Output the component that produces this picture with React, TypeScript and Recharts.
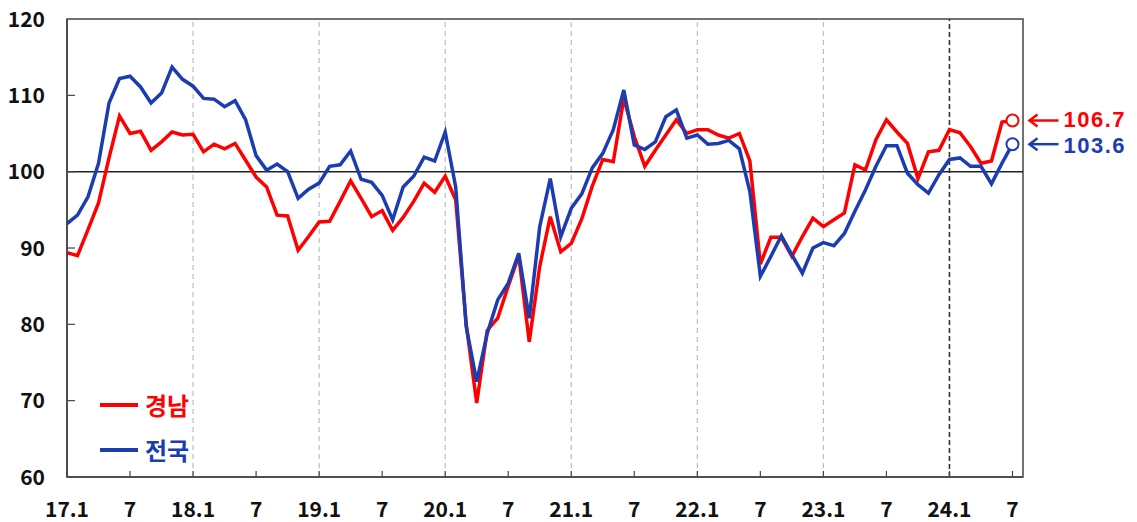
import { LineChart, Line, XAxis, YAxis, ReferenceLine, ReferenceArea, ReferenceDot } from "recharts";

// 2017.1 ~ 2024.7 monthly index (91 months)
const gyeongnam = [
  89.4, 89.0, 92.4, 95.9, 101.8, 107.3, 105.0, 105.3, 102.8, 103.9, 105.2, 104.8,
  104.9, 102.6, 103.6, 103.0, 103.7, 101.5, 99.3, 98.0, 94.3, 94.2, 89.7, 91.5,
  93.4, 93.5, 96.1, 98.8, 96.5, 94.1, 94.9, 92.3, 94.0, 96.1, 98.5, 97.3,
  99.4, 96.3, 80.0, 69.7, 79.2, 80.8, 85.0, 89.0, 77.7, 87.6, 94.1, 89.5,
  90.6, 93.8, 98.1, 101.6, 101.3, 109.6, 104.6, 100.7, 102.8, 104.8, 106.8, 105.0,
  105.5, 105.5, 104.8, 104.4, 105.0, 101.4, 87.9, 91.4, 91.4, 88.9, 91.5, 93.9,
  92.8, 93.7, 94.6, 100.9, 100.2, 104.2, 106.8, 105.2, 103.7, 99.1, 102.6, 102.8,
  105.5, 105.1, 103.3, 101.1, 101.4, 106.5, 106.7,
];

const national = [
  93.2, 94.3, 96.7, 101.1, 109.0, 112.2, 112.5, 111.1, 109.0, 110.3, 113.7, 112.1,
  111.2, 109.6, 109.5, 108.5, 109.3, 106.8, 102.1, 100.2, 101.0, 100.0, 96.5, 97.7,
  98.5, 100.7, 100.9, 102.7, 99.0, 98.6, 96.9, 93.7, 98.0, 99.4, 101.9, 101.4,
  105.2, 98.0, 79.7, 72.5, 78.8, 83.2, 85.4, 89.3, 80.8, 92.8, 99.1, 91.5,
  95.2, 97.1, 100.5, 102.4, 105.5, 110.7, 103.5, 102.9, 103.9, 107.2, 108.1, 104.4,
  104.8, 103.6, 103.7, 104.1, 103.0, 97.4, 86.3, 88.9, 91.6, 89.1, 86.7, 90.0,
  90.7, 90.3, 91.9, 94.8, 97.6, 100.7, 103.4, 103.4, 99.8, 98.3, 97.2, 99.6,
  101.6, 101.8, 100.7, 100.7, 98.4, 101.1, 103.6,
];

const xTickLabels = ["17.1", "7", "18.1", "7", "19.1", "7", "20.1", "7", "21.1", "7", "22.1", "7", "23.1", "7", "24.1", "7"];
const xTicks = xTickLabels.map((_, k) => k * 6);
const yearStarts = [12, 24, 36, 48, 60, 72];
const latestYearStart = 84;
const yTicks = [60, 70, 80, 90, 100, 110, 120];

const RED = "#ff0000";
const BLUE = "#1c3db0";
const FONT = "'Noto Sans CJK KR', 'Noto Sans', sans-serif";

const series = [
  { key: "gyeongnam", name: "경남", color: RED },
  { key: "national", name: "전국", color: BLUE },
];

const data = gyeongnam.map((v, i) => ({ i, gyeongnam: v, national: national[i] }));
const last = data.length - 1;

const XTick = ({ x, y, payload }: any) => (
  <g>
    <line x1={x} x2={x} y1={y} y2={y - 6} stroke="#444" strokeWidth={1.2} />
    <text x={x} y={y + 40} textAnchor="middle" fontFamily={FONT} fontWeight={700} fontSize={21} fill="#111">
      {xTickLabels[payload.value / 6]}
    </text>
  </g>
);

const YTick = ({ x, y, payload }: any) => (
  <g>
    {payload.value > 60 && payload.value < 120 && (
      <line x1={x + 22} x2={x + 30} y1={y} y2={y} stroke="#444" strokeWidth={1.2} />
    )}
    <text x={x} y={y} dy="0.36em" textAnchor="end" fontFamily={FONT} fontWeight={700} fontSize={21} fill="#111">
      {payload.value}
    </text>
  </g>
);

// arrow + value to the right of the last point
const endLabel = (color: string, value: number, shift: number) => (props: any) => {
  const vb = props.viewBox;
  const cx = vb.x + vb.width / 2;
  const cy = vb.y + vb.height / 2;
  return (
    <g>
      <line x1={cx + 17} x2={cx + 46} y1={cy} y2={cy} stroke={color} strokeWidth={2.5} />
      <polyline points={`${cx + 25},${cy - 6} ${cx + 17},${cy} ${cx + 25},${cy + 6}`} fill="none" stroke={color} strokeWidth={2.5} />
      <text
        x={cx + 51}
        y={cy + shift}
        dy="0.36em"
        fontFamily="'Liberation Sans', Arial, sans-serif"
        fontWeight={700}
        fontSize={22}
        letterSpacing={1.5}
        fill={color}
      >
        {value.toFixed(1)}
      </text>
    </g>
  );
};

export default function App() {
  return (
    <div style={{ position: "relative", width: 1121, height: 522, marginTop: -8 }}>
      <LineChart width={1121} height={522} data={data} margin={{ top: 19, right: 106, left: 0, bottom: 0 }}>
        <XAxis
          dataKey="i"
          type="number"
          domain={[0, 91]}
          ticks={xTicks}
          tick={<XTick />}
          tickSize={0}
          tickMargin={0}
          height={45}
          axisLine={{ stroke: "#444", strokeWidth: 1.5 }}
          tickLine={false}
          interval={0}
        />
        <YAxis
          domain={[60, 120]}
          ticks={yTicks}
          tick={<YTick />}
          tickSize={0}
          tickMargin={22}
          width={59}
          axisLine={{ stroke: "#444", strokeWidth: 1.5 }}
          tickLine={false}
          interval={0}
        />
        {yearStarts.map((m) => (
          <ReferenceLine key={m} x={m} stroke="#bdbdbd" strokeDasharray="5 4" strokeWidth={1.2} />
        ))}
        <ReferenceLine x={latestYearStart} stroke="#333" strokeDasharray="5 3" strokeWidth={1.6} />
        <ReferenceLine y={100} stroke="#222" strokeWidth={1.5} />
        <ReferenceArea x1={0} x2={91} y1={60} y2={120} fill="none" stroke="#444" strokeWidth={1.5} />
        {series.map((s) => (
          <Line
            key={s.key}
            dataKey={s.key}
            name={s.name}
            stroke={s.color}
            strokeWidth={3.5}
            dot={false}
            isAnimationActive={false}
          />
        ))}
        <ReferenceDot
          x={last}
          y={gyeongnam[last]}
          r={6}
          fill="#fff"
          stroke={RED}
          strokeWidth={2}
          label={endLabel(RED, gyeongnam[last], -1)}
        />
        <ReferenceDot
          x={last}
          y={national[last]}
          r={6}
          fill="#fff"
          stroke={BLUE}
          strokeWidth={2}
          label={endLabel(BLUE, national[last], 1)}
        />
      </LineChart>
      <div style={{ position: "absolute", left: 92, top: 382, fontFamily: FONT }}>
        {series.map((s) => (
          <div key={s.key} style={{ display: "flex", alignItems: "center", height: 45 }}>
            <span style={{ display: "inline-block", width: 38, height: 4, background: s.color, marginRight: 7 }} />
            <span style={{ color: s.color, fontSize: 24, fontWeight: 700, lineHeight: 1 }}>{s.name}</span>
          </div>
        ))}
      </div>
    </div>
  );
}
